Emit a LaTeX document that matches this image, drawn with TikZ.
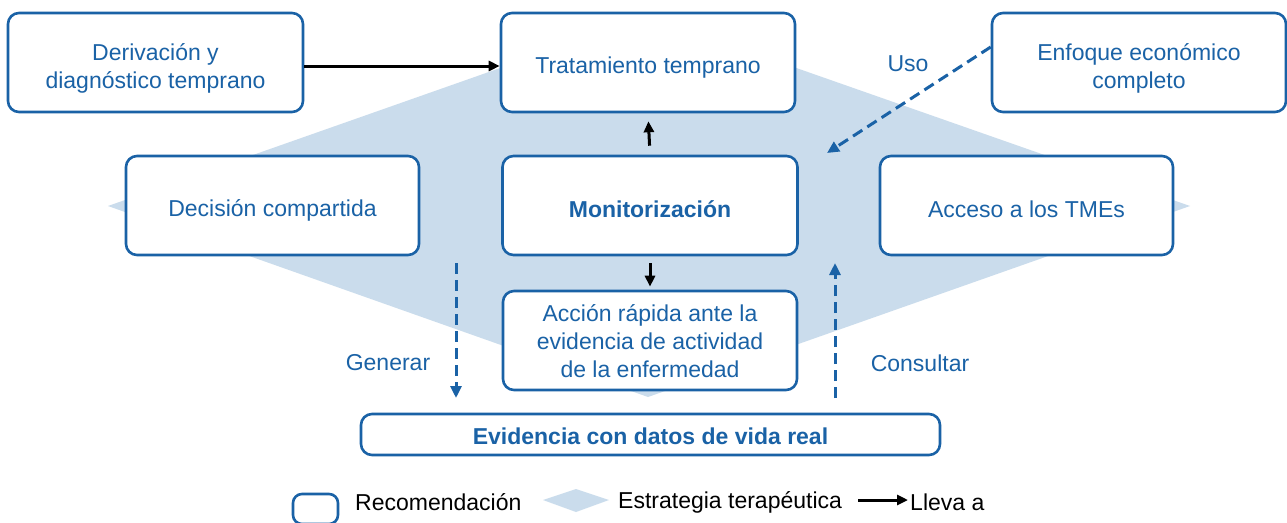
\documentclass[tikz,border=0pt]{standalone}
\usepackage{fontspec}
\setmainfont{Liberation Sans}
\usetikzlibrary{arrows.meta}
\definecolor{bblue}{HTML}{1A62A6}
\definecolor{dfill}{HTML}{CADCEC}
\begin{document}
\begin{tikzpicture}[x=1pt,y=-1pt,
 box/.style={draw=bblue, line width=2.6pt, rounded corners=11pt, fill=white, inner sep=0pt},
 btext/.style={text=bblue, align=center, font=\fontsize{23}{28}\selectfont, inner sep=0pt},
 bbold/.style={btext, font=\fontsize{23}{28}\selectfont\bfseries},
 blackarrow/.style={draw=black, line width=3pt, -{Triangle[length=11pt,width=10pt]}},
 dasharrow/.style={draw=bblue, line width=3pt, dash pattern=on 11pt off 6pt, -{Triangle[length=12pt,width=11pt]}},
 lbl/.style={text=bblue, font=\fontsize{23}{28}\selectfont},
 leg/.style={text=black, font=\fontsize{23}{27}\selectfont, anchor=west, inner sep=0pt}]
\useasboundingbox (0,0) rectangle (1287,522);
\fill[white] (0,0) rectangle (1287,522);
\fill[dfill] (108,206) -- (648,16) -- (1190,206) -- (648,397) -- cycle;
% boxes
\node[box, minimum width=295pt, minimum height=99pt] (der) at (155.5,62.5) {};
\node[btext] (derT) at ([yshift=-5.5pt]der.center) {Derivación y\\diagnóstico temprano};
\node[box, minimum width=294pt, minimum height=99pt] (tra) at (648,62.5) {};
\node[btext] (traT) at ([yshift=-5.5pt]tra.center) {Tratamiento temprano};
\node[box, minimum width=294pt, minimum height=99pt] (enf) at (1139,62.5) {};
\node[btext] (enfT) at ([yshift=-5.5pt]enf.center) {Enfoque económico\\completo};
\node[box, minimum width=293pt, minimum height=99pt] (dec) at (272.5,205.5) {};
\node[btext] (decT) at ([yshift=-5pt]dec.center) {Decisión compartida};
\node[box, minimum width=295pt, minimum height=99pt] (mon) at (650,205.5) {};
\node[bbold] (monT) at ([yshift=-4pt]mon.center) {Monitorización};
\node[box, minimum width=293pt, minimum height=99pt] (acc) at (1026.5,205.5) {};
\node[btext] (accT) at ([yshift=-4pt]acc.center) {Acceso a los TMEs};
\node[box, minimum width=294pt, minimum height=99pt] (acr) at (650,340.5) {};
\node[btext] (acrT) at ([yshift=-1pt]acr.center) {Acción rápida ante la\\evidencia de actividad\\de la enfermedad};
\node[box, minimum width=579pt, minimum height=41pt] (evi) at (650.5,434.5) {};
\node[bbold] (eviT) at ([yshift=-2pt]evi.center) {Evidencia con datos de vida real};
% black arrows
\draw[blackarrow] ([yshift=-3.5pt]der.east) -- ([yshift=-3.5pt]tra.west);
\draw[blackarrow, shorten <=9pt, shorten >=8pt] (mon.north) -- (tra.south);
\draw[blackarrow, shorten <=7pt, shorten >=3pt] (mon.south) -- (acr.north);
% dashed arrows
\coordinate (usoEnd) at (827,153);
\draw[dasharrow] ([yshift=15.5pt]enf.west) -- (usoEnd);
\coordinate (genA) at (456,263);
\coordinate (genB) at (456,398);
\draw[dasharrow] (genA) -- (genB);
\coordinate (conA) at (835,398);
\coordinate (conB) at (835,263);
\draw[dasharrow] (conA) -- (conB);
% labels
\node[lbl] (uso) at (908,64) {Uso};
\node[lbl] (gen) at (388,363) {Generar};
\node[lbl] (con) at (920,363) {Consultar};
% legend
\node[draw=bblue, line width=2.6pt, rounded corners=9pt, minimum width=45pt, minimum height=30pt, inner sep=0pt, fill=white] (legbox) at (315.5,509) {};
\node[leg] (legrec) at (355,502) {Recomendación};
\fill[dfill] (543,500) -- (576,489) -- (609,500) -- (576,512) -- cycle;
\node[leg] (legest) at (618,502) {Estrategia terapéutica};
\coordinate (legA) at (858,500);
\coordinate (legB) at (908,500);
\draw[blackarrow] (legA) -- (legB);
\node[leg] (legllev) at (910,502) {Lleva a};
\end{tikzpicture}
\end{document}
